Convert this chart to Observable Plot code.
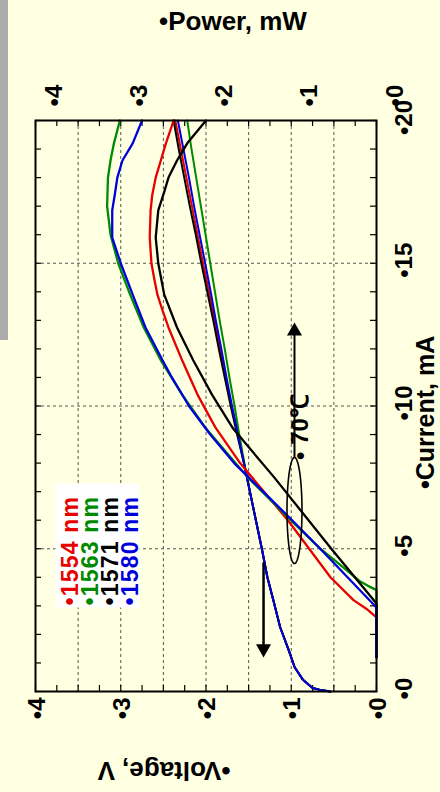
<!DOCTYPE html>
<html><head><meta charset="utf-8">
<script src="https://cdn.jsdelivr.net/npm/d3@7"></script>
<script src="https://cdn.jsdelivr.net/npm/@observablehq/plot@0.6"></script>
<style>
html,body{margin:0;padding:0;background:#FFFFE1;}
#wrap{position:relative;width:440px;height:792px;overflow:hidden;background:#FFFFE1;}
#bar{position:absolute;left:0;top:0;width:8px;height:340px;background:#ABABAB;}
text.legend{letter-spacing:1.2px;}
</style></head><body><div id="wrap"></div>
<script>
// ---------- data ----------
const wavelengths = ["1554", "1563", "1571", "1580"];
const seriesColors = ["#e60000", "#008a00", "#000000", "#0000dd"];

const titleText = "• 70℃";
const voltageTitle = "•Voltage, V";
const powerTitle = "•Power, mW";
const currentTitle = "•Current, mA";

const voltageTicks = [0, 1, 2, 3, 4];
const powerTicks = [0, 1, 2, 3, 4];
const currentTicks = [0, 5, 10, 15, 20];

// voltage curves (V) versus current (mA)
const voltageCurrent = [0, 0.04, 0.12, 0.4, 0.85, 1.45, 2.25, 3.2, 4, 5, 6, 7, 8, 9, 10, 11, 12, 13, 14, 15, 16, 17, 18, 19, 20];
const voltage1554 = [0.54, 0.64, 0.75, 0.86, 0.96, 1.03, 1.13, 1.21, 1.28, 1.345, 1.415, 1.485, 1.555, 1.625, 1.70, 1.77, 1.835, 1.90, 1.965, 2.035, 2.10, 2.165, 2.23, 2.295, 2.36];
const voltage1563 = [0.54, 0.64, 0.75, 0.86, 0.96, 1.03, 1.13, 1.21, 1.28, 1.345, 1.415, 1.485, 1.55, 1.61, 1.665, 1.725, 1.78, 1.84, 1.895, 1.95, 2.005, 2.06, 2.115, 2.17, 2.22];
const voltage1571 = [0.54, 0.64, 0.75, 0.86, 0.96, 1.03, 1.13, 1.21, 1.28, 1.345, 1.415, 1.485, 1.555, 1.635, 1.71, 1.78, 1.85, 1.915, 1.985, 2.055, 2.12, 2.19, 2.255, 2.32, 2.38];
const voltage1580 = [0.54, 0.64, 0.75, 0.86, 0.96, 1.03, 1.13, 1.21, 1.28, 1.345, 1.415, 1.485, 1.555, 1.625, 1.695, 1.76, 1.82, 1.885, 1.945, 2.01, 2.075, 2.14, 2.20, 2.265, 2.33];

// optical power curves (mW) versus current (mA)
const powerCurrent1554 = [1.2, 2.6, 2.9, 3.2, 4.0, 5.0, 6.0, 7.0, 8.0, 9.25, 10.4, 11.6, 12.75, 13.35, 13.9, 14.5, 15.0, 15.9, 16.85, 17.4, 18.0, 18.6, 19.2, 20];
const power1554 = [0, 0, 0.12, 0.27, 0.54, 0.79, 1.04, 1.32, 1.6, 1.89, 2.1, 2.28, 2.44, 2.51, 2.57, 2.61, 2.64, 2.66, 2.65, 2.63, 2.59, 2.53, 2.47, 2.38];
const powerCurrent1563 = [1.2, 3.55, 3.7, 3.85, 4.5, 5.0, 5.9, 7.5, 9.25, 10.4, 11.6, 12.75, 13.9, 15.0, 16.0, 17.0, 18.0, 18.6, 19.2, 20];
const power1563 = [0, 0, 0.1, 0.19, 0.45, 0.66, 0.97, 1.51, 2.01, 2.28, 2.53, 2.73, 2.89, 3.03, 3.12, 3.16, 3.15, 3.12, 3.08, 3.01];
const powerCurrent1571 = [1.2, 3.08, 5.0, 7.5, 9.2, 10.4, 11.6, 12.75, 13.9, 15.0, 15.9, 16.85, 17.4, 18.0, 18.6, 19.2, 20];
const power1571 = [0, 0, 0.53, 1.2, 1.68, 1.93, 2.15, 2.34, 2.49, 2.56, 2.59, 2.56, 2.50, 2.44, 2.34, 2.22, 2.0];
const powerCurrent1580 = [1.2, 2.94, 4.0, 5.0, 6.0, 7.0, 8.0, 9.0, 10.0, 11.0, 11.6, 12.75, 13.9, 15.0, 15.9, 16.85, 17.4, 18.0, 18.6, 19.2, 20];
const power1580 = [0, 0, 0.34, 0.66, 0.99, 1.33, 1.67, 1.95, 2.2, 2.4, 2.51, 2.71, 2.86, 3.0, 3.1, 3.1, 3.07, 3.04, 2.98, 2.86, 2.75];

// annotations (data units)
const downArrow = {value: 1.325, from: 4.5, to: 1.5};
const upArrow = {value: 0.962, from: 8.2, to: 12.62};
const ellipse = {value: 0.962, current: 6.34, rValue: 0.088, rCurrent: 1.86};

// ---------- build ----------
const voltageSeries = [voltage1554, voltage1563, voltage1571, voltage1580];
const powerSeries = [[powerCurrent1554, power1554], [powerCurrent1563, power1563], [powerCurrent1571, power1571], [powerCurrent1580, power1580]];

const font = "'Liberation Sans', Arial, Helvetica, sans-serif";
const gridV = d3.range(0.5, 4, 0.5);
const gridI = [5, 10, 15];
const minorV = d3.range(0, 4.001, 0.25);
const minorI = d3.range(0, 20.001, 1);
const tickI = 6 / 28.55, tickV = 6 / 85.25;

const marks = [];
marks.push(Plot.ruleX(gridV, {x: d => d, stroke: "#555", strokeWidth: 1, strokeDasharray: "3,3"}));
marks.push(Plot.ruleY(gridI, {y: d => d, stroke: "#555", strokeWidth: 1, strokeDasharray: "3,3"}));
// legend box
marks.push(Plot.frame({fill: "white", stroke: "none", insetLeft: 20, insetRight: 237, insetTop: 363, insetBottom: 84}));
// ticks
marks.push(Plot.ruleX(minorV, {x: d => d, y1: 0, y2: tickI, stroke: "black", strokeWidth: 1.2}));
marks.push(Plot.ruleX(minorV, {x: d => d, y1: 20, y2: 20 - tickI, stroke: "black", strokeWidth: 1.2}));
marks.push(Plot.ruleY(minorI, {y: d => d, x1: 4, x2: 4 - tickV, stroke: "black", strokeWidth: 1.2}));
marks.push(Plot.ruleY(minorI, {y: d => d, x1: 0, x2: tickV, stroke: "black", strokeWidth: 1.2}));

// voltage curves
voltageSeries.forEach((vals, k) => {
  const rows = voltageCurrent.map((c, j) => ({i: c, v: vals[j]}));
  marks.push(Plot.line(rows, {x: "v", y: "i", stroke: seriesColors[k], strokeWidth: 2}));
});
// power curves
powerSeries.forEach(([cur, vals], k) => {
  const rows = cur.map((c, j) => ({i: c, v: vals[j]}));
  marks.push(Plot.line(rows, {x: "v", y: "i", stroke: seriesColors[k], strokeWidth: 2.3}));
});

// arrows
marks.push(Plot.ruleX([downArrow], {x: "value", y1: "from", y2: "to", stroke: "black", strokeWidth: 2.5}));
marks.push(Plot.dot([downArrow], {x: "value", y: "to", symbol: "triangle", r: 5.6, rotate: 180, fill: "black", stroke: "none"}));
marks.push(Plot.ruleX([upArrow], {x: "value", y1: "from", y2: "to", stroke: "black", strokeWidth: 2}));
marks.push(Plot.dot([upArrow], {x: "value", y: "to", symbol: "triangle", r: 5.6, fill: "black", stroke: "none"}));
const ell = d3.range(0, 2 * Math.PI + 0.01, Math.PI / 40).map(t => ({v: ellipse.value + ellipse.rValue * Math.cos(t), i: ellipse.current + ellipse.rCurrent * Math.sin(t)}));
marks.push(Plot.line(ell, {x: "v", y: "i", stroke: "black", strokeWidth: 1.6}));

marks.push(Plot.frame({stroke: "black", strokeWidth: 2}));

const txt = {fontFamily: font, fontWeight: "bold", fill: "black"};
// tick labels
marks.push(Plot.text(voltageTicks, {...txt, x: d => d, text: d => "•" + d, frameAnchor: "bottom", rotate: -90, textAnchor: "end", dx: 9, dy: 6, fontSize: 24}));
marks.push(Plot.text(powerTicks, {...txt, x: d => d, text: d => "•" + d, frameAnchor: "top", rotate: -90, textAnchor: "start", dx: 9, dy: -14, fontSize: 24}));
marks.push(Plot.text(currentTicks, {...txt, y: d => d, text: d => "•" + d, frameAnchor: "right", rotate: -90, textAnchor: "middle", dx: 28, dy: -3, fontSize: 24}));
// axis titles
marks.push(Plot.text([voltageTitle], {...txt, text: d => d, frameAnchor: "bottom", rotate: 180, dx: -42, dy: 70, fontSize: 26}));
marks.push(Plot.text([powerTitle], {...txt, text: d => d, frameAnchor: "top", dx: 27, dy: -109, fontSize: 26}));
marks.push(Plot.text([currentTitle], {...txt, text: d => d, frameAnchor: "right", rotate: -90, textAnchor: "start", dx: 49, dy: 83, fontSize: 25}));
// title
marks.push(Plot.text([titleText], {...txt, text: d => d, frameAnchor: "middle", rotate: -90, dx: 94.5, dy: 21, fontSize: 24}));
// legend
wavelengths.forEach((w, k) => {
  marks.push(Plot.text(["•" + w + " nm"], {...txt, fill: seriesColors[k], text: d => d, frameAnchor: "bottom-left", rotate: -90, textAnchor: "start", dx: 42.5 + 20 * k, dy: -86, fontSize: 23, className: "legend"}));
});

const chart = Plot.plot({
  width: 440, height: 792,
  marginLeft: 35, marginRight: 64, marginTop: 120, marginBottom: 101,
  x: {domain: [4, 0], axis: null},
  y: {domain: [0, 20], axis: null},
  style: {background: "#FFFFE1", fontFamily: font, overflow: "visible"},
  marks
});
d3.select(chart).selectAll("g[aria-label='text'] text").filter(function() { return ["1554","1563","1571","1580"].some(w => this.textContent.includes(w)); }).style("letter-spacing", "1.2px");
const wrap = document.getElementById("wrap");
wrap.appendChild(chart);
const bar = document.createElement("div");
bar.id = "bar";
wrap.appendChild(bar);
</script></body></html>
